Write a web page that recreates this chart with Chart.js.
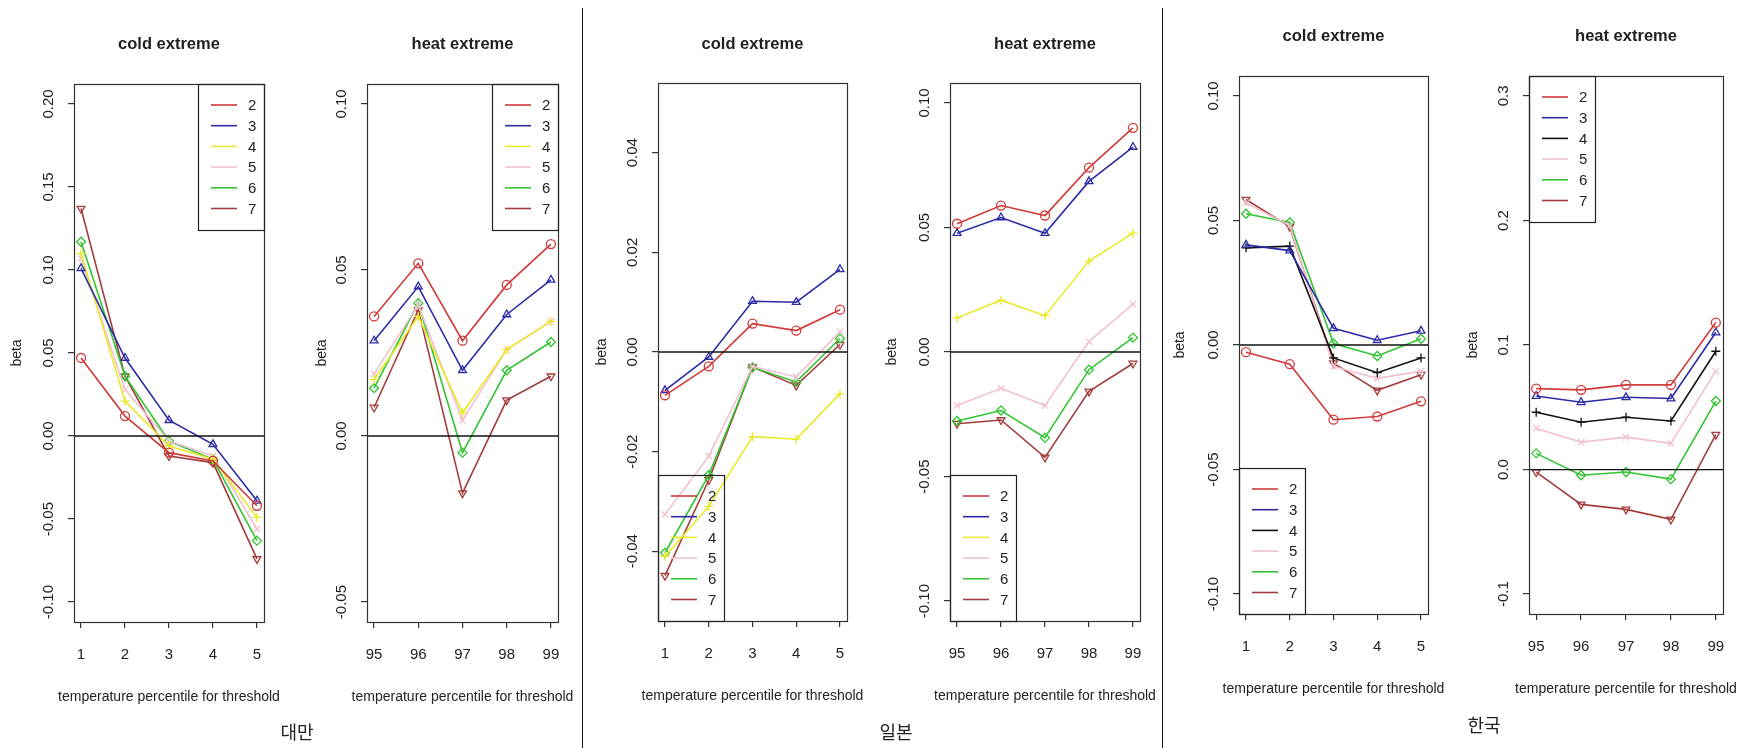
<!doctype html>
<html>
	<head>
		<meta charset="utf-8" />
		<title>beta by temperature percentile threshold</title>
		<script src="https://cdn.jsdelivr.net/npm/chart.js@4.4.1/dist/chart.umd.min.js"></script>
		<style>
			html,
			body {
				margin: 0;
				padding: 0;
				background: #fff;
				width: 1756px;
				height: 748px;
				overflow: hidden;
				position: relative;
			}
			canvas {
				position: absolute;
				top: 0;
			}
			.divider {
				position: absolute;
				top: 8px;
				bottom: 0;
				width: 0;
				border-left: 1.5px solid #111;
			}
			.country {
				position: absolute;
				font-family: "Noto Sans CJK KR", "Noto Sans", sans-serif;
				font-size: 18px;
				color: #222;
				transform: translate(-50%, -50%);
				white-space: nowrap;
			}
		</style>
	</head>

	<body>
		<script>
			// x categories
			const coldX = [1, 2, 3, 4, 5];
			const heatX = [95, 96, 97, 98, 99];
			const seriesNames = ["2", "3", "4", "5", "6", "7"];

			// each row is one series, in the order of seriesNames
			const taiwanCold = [
				[0.047, 0.012, -0.01, -0.015, -0.042],
				[0.101, 0.047, 0.0095, -0.005, -0.039],
				[0.11, 0.021, -0.006, -0.014, -0.049],
				[0.107, 0.028, -0.003, -0.012, -0.056],
				[0.117, 0.036, -0.003, -0.014, -0.063],
				[0.137, 0.036, -0.012, -0.016, -0.074],
			];
			const taiwanHeat = [
				[0.036, 0.052, 0.0287, 0.0455, 0.0578],
				[0.0287, 0.045, 0.0198, 0.0366, 0.047],
				[0.017, 0.036, 0.007, 0.026, 0.0345],
				[0.0187, 0.0395, 0.0047, 0.026, 0.0345],
				[0.0144, 0.04, -0.005, 0.0198, 0.0283],
				[0.0086, 0.038, -0.0172, 0.0108, 0.018],
			];
			const japanCold = [
				[-0.0087, -0.0029, 0.0057, 0.0043, 0.0085],
				[-0.0077, -0.001, 0.0102, 0.01, 0.0166],
				[-0.041, -0.031, -0.017, -0.0175, -0.0084],
				[-0.0326, -0.0209, -0.0029, -0.005, 0.0041],
				[-0.0403, -0.0247, -0.0031, -0.006, 0.0027],
				[-0.0449, -0.0257, -0.003, -0.0067, 0.0015],
			];
			const japanHeat = [
				[0.0515, 0.0588, 0.0548, 0.074, 0.09],
				[0.0477, 0.054, 0.0477, 0.0685, 0.0823],
				[0.0137, 0.0208, 0.0146, 0.0365, 0.0477],
				[-0.0215, -0.0146, -0.0215, 0.0042, 0.0192],
				[-0.0277, -0.0235, -0.0344, -0.0071, 0.0058],
				[-0.0288, -0.0273, -0.0423, -0.0158, -0.0046],
			];
			const koreaCold = [
				[-0.0029, -0.0077, -0.03, -0.0287, -0.0226],
				[0.0402, 0.0379, 0.0067, 0.0019, 0.0057],
				[0.039, 0.0397, -0.0052, -0.0111, -0.0052],
				[0.057, 0.048, -0.0086, -0.0134, -0.0105],
				[0.0527, 0.0492, 0.0006, -0.0044, 0.0025],
				[0.0584, 0.0475, -0.0073, -0.0182, -0.0119],
			];
			const koreaHeat = [
				[0.065, 0.064, 0.068, 0.068, 0.118],
				[0.059, 0.054, 0.058, 0.057, 0.11],
				[0.046, 0.038, 0.042, 0.039, 0.095],
				[0.033, 0.022, 0.026, 0.021, 0.079],
				[0.013, -0.0046, -0.002, -0.0077, 0.055],
				[-0.002, -0.028, -0.032, -0.04, 0.028],
			];

			// y tick labels per panel
			const ticksTaiwanCold = [-0.1, -0.05, 0, 0.05, 0.1, 0.15, 0.2];
			const ticksTaiwanHeat = [-0.05, 0, 0.05, 0.1];
			const ticksJapanCold = [-0.04, -0.02, 0, 0.02, 0.04];
			const ticksJapanHeat = [-0.1, -0.05, 0, 0.05, 0.1];
			const ticksKoreaCold = [-0.1, -0.05, 0, 0.05, 0.1];
			const ticksKoreaHeat = [-0.1, 0, 0.1, 0.2, 0.3];

			const colorsOther = ["#cf3a3a", "#2b2ba6", "#e9e92a", "#f1c2cd", "#33c433", "#a33c3c"];
			const colorsKorea = ["#cf3a3a", "#2b2ba6", "#111111", "#f1c2cd", "#33c433", "#a33c3c"];
			const pointStyles = ["circle", "triangle", "cross", "crossRot", "rectRot", "triangle"];
			const pointRotations = [0, 0, 0, 0, 0, 180];

			const FONT = '"Liberation Sans", Arial, Helvetica, sans-serif';
			const LEFT = 80,
				RIGHT = 40,
				H = 748;

			// box = [left, top, right, bottom] of the plot frame in page pixels
			const panels = [
				{ box: [74, 84, 264, 622], xs: coldX, ys: taiwanCold, ticks: ticksTaiwanCold, lim: [-0.1, 0.2], dec: 2, title: "cold extreme", titleY: 44, betaOff: 57, legend: "topright", colors: colorsOther },
				{ box: [367, 84, 558, 622], xs: heatX, ys: taiwanHeat, ticks: ticksTaiwanHeat, lim: [-0.05, 0.1], dec: 2, title: "heat extreme", titleY: 44, betaOff: 45, legend: "topright", colors: colorsOther },
				{ box: [658, 83, 847, 621], xs: coldX, ys: japanCold, ticks: ticksJapanCold, lim: [-0.05, 0.05], dec: 2, title: "cold extreme", titleY: 44, betaOff: 56, legend: "bottomleft", colors: colorsOther },
				{ box: [950, 83, 1140, 621], xs: heatX, ys: japanHeat, ticks: ticksJapanHeat, lim: [-0.1, 0.1], dec: 2, title: "heat extreme", titleY: 44, betaOff: 58, legend: "bottomleft", colors: colorsOther },
				{ box: [1239, 76, 1428, 614], xs: coldX, ys: koreaCold, ticks: ticksKoreaCold, lim: [-0.1, 0.1], dec: 2, title: "cold extreme", titleY: 36, betaOff: 59, legend: "bottomleft", colors: colorsKorea },
				{ box: [1529, 76, 1723, 614], xs: heatX, ys: koreaHeat, ticks: ticksKoreaHeat, lim: [-0.1, 0.3], dec: 1, title: "heat extreme", titleY: 36, betaOff: 56, legend: "topleft", colors: colorsKorea },
			];

			const countries = [
				{ text: "대만", x: 297, y: 731 },
				{ text: "일본", x: 896, y: 731 },
				{ text: "한국", x: 1484, y: 724 },
			];
			const dividers = [582, 1162];

			// R-like frame: box, abline(h=0), rotated y labels, titles, legend
			const rFrame = {
				id: "rFrame",
				afterDatasetsDraw(chart, args, p) {
					const { ctx, chartArea: a, scales } = chart;
					const y0 = scales.y.getPixelForValue(0);
					ctx.save();
					ctx.strokeStyle = "#111";
					ctx.lineWidth = 1.3;
					ctx.beginPath();
					ctx.moveTo(a.left, y0);
					ctx.lineTo(a.right, y0);
					ctx.stroke();
					ctx.restore();
				},
				afterDraw(chart, args, p) {
					const { ctx, chartArea: a, scales } = chart;
					ctx.save();
					ctx.strokeStyle = "#333";
					ctx.lineWidth = 1.2;
					ctx.strokeRect(a.left + 0.5, a.top + 0.5, a.right - a.left, a.bottom - a.top);

					ctx.fillStyle = "#222";
					ctx.textAlign = "center";
					ctx.textBaseline = "middle";

					// y tick labels, read bottom to top
					ctx.font = "15px " + FONT;
					p.ticks.forEach((v) => {
						const py = scales.y.getPixelForValue(v);
						ctx.save();
						ctx.translate(a.left - 25, py);
						ctx.rotate(-Math.PI / 2);
						ctx.fillText(v.toFixed(p.dec), 0, 0);
						ctx.restore();
					});

					// y axis title
					ctx.font = "14px " + FONT;
					ctx.save();
					ctx.translate(a.left - p.betaOff, (a.top + a.bottom) / 2);
					ctx.rotate(-Math.PI / 2);
					ctx.fillText("beta", 0, 0);
					ctx.restore();

					// x axis title
					ctx.fillText("temperature percentile for threshold", (a.left + a.right) / 2, a.bottom + 75);

					// main title
					ctx.font = "bold 16.5px " + FONT;
					ctx.fillText(p.title, (a.left + a.right) / 2, p.titleY);

					// legend
					const lw = 66,
						lh = 146;
					const lx = p.legend.endsWith("right") ? a.right - lw : a.left;
					const ly = p.legend.startsWith("top") ? a.top : a.bottom - lh;
					ctx.strokeStyle = "#222";
					ctx.lineWidth = 1.2;
					ctx.strokeRect(lx + 0.5, ly + 0.5, lw, lh);
					ctx.font = "15px " + FONT;
					ctx.textAlign = "left";
					chart.data.datasets.forEach((ds, k) => {
						const ry = ly + 21 + k * 20.7;
						ctx.strokeStyle = ds.borderColor;
						ctx.lineWidth = 1.6;
						ctx.beginPath();
						ctx.moveTo(lx + 13, ry);
						ctx.lineTo(lx + 39, ry);
						ctx.stroke();
						ctx.fillStyle = "#222";
						ctx.fillText(ds.label, lx + 50, ry + 1);
					});
					ctx.restore();
				},
			};

			panels.forEach((p) => {
				const [bl, bt, br, bb] = p.box;
				const w = LEFT + (br - bl) + RIGHT;
				const cv = document.createElement("canvas");
				cv.width = w;
				cv.height = H;
				cv.style.left = bl - LEFT + "px";
				cv.style.width = w + "px";
				cv.style.height = H + "px";
				document.body.appendChild(cv);

				// R pads the axis range by 4% on each side
				const xPad = (p.xs[p.xs.length - 1] - p.xs[0]) * 0.04;
				const yPad = (p.lim[1] - p.lim[0]) * 0.04;

				new Chart(cv, {
					type: "line",
					data: {
						datasets: p.ys.map((vals, k) => ({
							label: seriesNames[k],
							data: vals.map((v, j) => ({ x: p.xs[j], y: v })),
							borderColor: p.colors[k],
							borderWidth: 1.6,
							tension: 0,
							fill: false,
							pointStyle: pointStyles[k],
							pointRotation: pointRotations[k],
							pointRadius: 4.5,
							pointBorderWidth: 1.3,
							pointBorderColor: p.colors[k],
							pointBackgroundColor: "rgba(0,0,0,0)",
						})),
					},
					options: {
						responsive: false,
						animation: false,
						devicePixelRatio: 1,
						layout: { padding: { left: 0, right: RIGHT, top: bt, bottom: 0 } },
						plugins: {
							legend: { display: false },
							tooltip: { enabled: false },
							rFrame: p,
						},
						scales: {
							x: {
								type: "linear",
								min: p.xs[0] - xPad,
								max: p.xs[p.xs.length - 1] + xPad,
								afterBuildTicks: (s) => {
									s.ticks = p.xs.map((v) => ({ value: v }));
								},
								afterFit: (s) => {
									s.height = H - bb;
								},
								grid: { drawOnChartArea: false, tickLength: 6, color: "#333", lineWidth: 1.2 },
								border: { display: false },
								ticks: {
									autoSkip: false,
									maxRotation: 0,
									padding: 18,
									color: "#222",
									font: { family: FONT, size: 15 },
									callback: (v) => String(v),
								},
							},
							y: {
								type: "linear",
								min: p.lim[0] - yPad,
								max: p.lim[1] + yPad,
								afterBuildTicks: (s) => {
									s.ticks = p.ticks.map((v) => ({ value: v }));
								},
								afterFit: (s) => {
									s.width = LEFT;
								},
								grid: { drawOnChartArea: false, tickLength: 6, color: "#333", lineWidth: 1.2 },
								border: { display: false },
								ticks: { display: false },
							},
						},
					},
					plugins: [rFrame],
				});
			});

			dividers.forEach((x) => {
				const d = document.createElement("div");
				d.className = "divider";
				d.style.left = x + "px";
				document.body.appendChild(d);
			});

			countries.forEach((c) => {
				const d = document.createElement("div");
				d.className = "country";
				d.textContent = c.text;
				d.style.left = c.x + "px";
				d.style.top = c.y + "px";
				document.body.appendChild(d);
			});
		</script>
	</body>
</html>
